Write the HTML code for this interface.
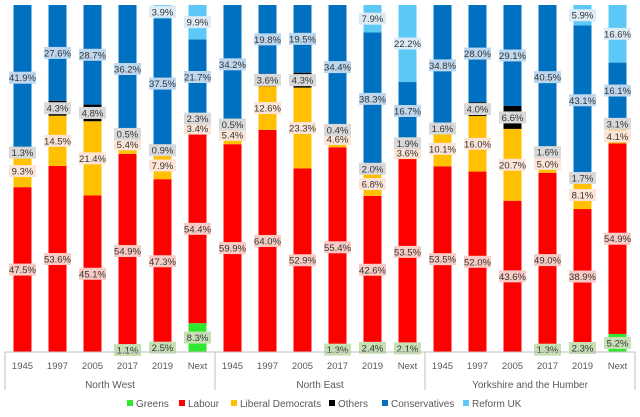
<!DOCTYPE html>
<html><head><meta charset="utf-8">
<style>
body{margin:0;background:#fff;width:640px;height:412px;overflow:hidden;font-family:"Liberation Sans",sans-serif;}
svg text{font-family:"Liberation Sans",sans-serif;}
</style></head>
<body>
<svg id="chart" width="640" height="412" xmlns="http://www.w3.org/2000/svg"></svg>
<script>
const groups = ["North West","North East","Yorkshire and the Humber"];
const years = ["1945","1997","2005","2017","2019","Next"];
const parties = ["Greens","Labour","Liberal Democrats","Others","Conservatives","Reform UK"];
const greens = [0,0,0,1.1,2.5,8.3, 0,0,0,1.3,2.4,2.1, 0,0,0,1.3,2.3,5.2];
const labour = [47.5,53.6,45.1,54.9,47.3,54.4, 59.9,64.0,52.9,55.4,42.6,53.5, 53.5,52.0,43.6,49.0,38.9,54.9];
const libdem = [9.3,14.5,21.4,5.4,7.9,3.4, 5.4,12.6,23.3,4.6,6.8,3.6, 10.1,16.0,20.7,5.0,8.1,4.1];
const others = [1.3,4.3,4.8,0.5,0.9,2.3, 0.5,3.6,4.3,0.4,2.0,1.9, 1.6,4.0,6.6,1.6,1.7,3.1];
const cons = [41.9,27.6,28.7,36.2,37.5,21.7, 34.2,19.8,19.5,34.4,38.3,16.7, 34.8,28.0,29.1,40.5,43.1,16.1];
const reform = [0,0,0,0,3.9,9.9, 0,0,0,0,7.9,22.2, 0,0,0,0,5.9,16.6];
const series = [greens,labour,libdem,others,cons,reform];
const colors = ["#2ee82e","#ff0000","#ffc000","#000000","#0070c0","#5bc8f5"];
const labelBg = ["#c6e0b4","#f8cbc4","#fce4d6","#d9d9d9","#bdd7ee","#ddebf7"];
const keys = ["greens","labour","libdem","others","conservatives","reform"];

const svg = document.getElementById('chart');
const NS = "http://www.w3.org/2000/svg";
const L=5,R=635,T=5,B=352,step=(R-L)/18,bw=18;
function xC(i){return L+step*(i+0.5);}
function yS(f){return B-(B-T)*f;}
function mk(tag,attrs){const e=document.createElementNS(NS,tag);for(const k in attrs)e.setAttribute(k,attrs[k]);svg.appendChild(e);return e;}

const labels=[];
for(let i=0;i<18;i++){
  let tot=0;series.forEach(s=>tot+=s[i]);
  let acc=0;
  series.forEach((s,k)=>{
    const v=s[i];
    if(v<=0)return;
    const y0=yS(acc/tot),y1=yS((acc+v)/tot);
    const r=mk('rect',{x:xC(i)-bw/2,y:y1,width:bw,height:y0-y1,fill:colors[k]});
    
    
    labels.push({x:xC(i),y:(y0+y1)/2,t:v.toFixed(1)+'%',k:k,i:i});
    acc+=v;
  });
}
labels.forEach(l=>{
  const w=27,h=12;
  const r=mk('rect',{x:l.x-w/2,y:l.y-h/2,width:w,height:h,fill:labelBg[l.k]});
  
  
  const t=mk('text',{x:l.x,y:l.y+3.5,'text-anchor':'middle','font-size':'9.5',fill:'#333'});
  t.textContent=l.t;
  
  
});
const ax=mk('line',{x1:L,y1:B,x2:R,y2:B,stroke:'#bfbfbf','stroke-width':1});


for(let g=0;g<=3;g++){
  const x=L+step*6*g;
  const ln=mk('line',{x1:x,y1:B,x2:x,y2:390,stroke:'#bfbfbf','stroke-width':1});
  
  
}
for(let i=0;i<18;i++){
  const t=mk('text',{x:xC(i),y:369,'text-anchor':'middle','font-size':'9.5',fill:'#595959'});
  t.textContent=years[i%6];
  
  
}
groups.forEach((g,j)=>{
  const t=mk('text',{x:L+step*(6*j+3),y:388,'text-anchor':'middle','font-size':'10',fill:'#595959'});
  t.textContent=g;
  
  
});
const legX=[127,179,231,329,382,463];
parties.forEach((p,k)=>{
  const r=mk('rect',{x:legX[k],y:400,width:6,height:6,fill:colors[k]});
  
  
  const t=mk('text',{x:legX[k]+9,y:407,'font-size':'10',fill:'#595959'});
  t.textContent=p;
  
  
});
</script>
</body></html>
